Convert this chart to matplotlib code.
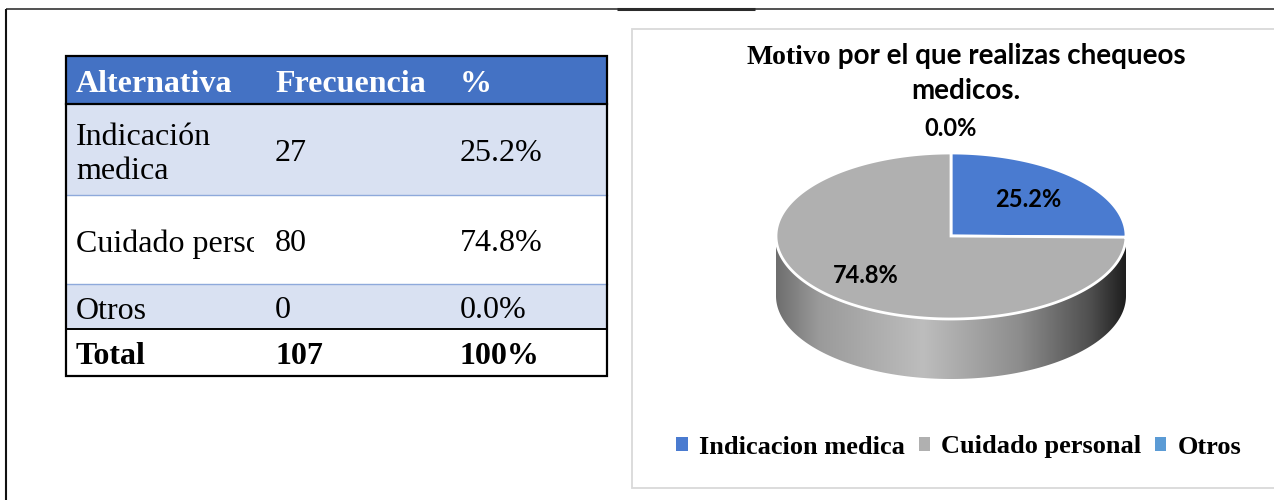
import numpy as np
import matplotlib
matplotlib.use("Agg")
import matplotlib.pyplot as plt
from matplotlib.patches import Rectangle, Polygon, Patch
from matplotlib.colors import LinearSegmentedColormap

# ---- data ----
categories = ["Indicacion medica", "Cuidado personal", "Otros"]
table_labels = ["Indicación\nmedica", "Cuidado personal", "Otros"]
counts = [27, 80, 0]
percents = [25.2, 74.8, 0.0]
total_count = 107
total_label = "100%"
headers = ["Alternativa", "Frecuencia", "%"]
title_first = "Motivo"
title_rest = " por el que realizas chequeos"
title_line2 = "medicos."
slice_colors = ["#4A7BD0", "#B0B0B0", "#5B9BD5"]

SERIF = "Liberation Serif"
SANS = "Lato"

W, H = 1274, 500
fig = plt.figure(figsize=(W / 100, H / 100), dpi=100)
ax = fig.add_axes([0, 0, 1, 1])
ax.set_xlim(0, W)
ax.set_ylim(H, 0)
ax.axis("off")

# ---- page frame ----
ax.plot([6, W], [9, 9], color="#333333", lw=1.2, solid_capstyle="butt")
ax.plot([6, 6], [9, H], color="#111111", lw=1.5, solid_capstyle="butt")
ax.plot([617, 755], [9.2, 9.2], color="#2b2b2b", lw=2.2, solid_capstyle="butt")

# ---- table ----
tx0, tx1 = 66, 607
row_edges = [56, 104, 195, 284, 329, 376]
col_x = [76, 275, 460]
fills = ["#4472C4", "#D9E1F2", "#FFFFFF", "#D9E1F2", "#FFFFFF"]
for i, fc in enumerate(fills):
    ax.add_patch(Rectangle((tx0, row_edges[i]), tx1 - tx0,
                           row_edges[i + 1] - row_edges[i],
                           facecolor=fc, edgecolor="none", zorder=1))
# inner rules
ax.plot([tx0, tx1], [104, 104], color="black", lw=1.6, zorder=2)
ax.plot([tx0, tx1], [195, 195], color="#8EA9DB", lw=1.0, zorder=2)
ax.plot([tx0, tx1], [284, 284], color="#8EA9DB", lw=1.0, zorder=2)
ax.plot([tx0, tx1], [329, 329], color="black", lw=1.4, zorder=2)
ax.add_patch(Rectangle((tx0, 56), tx1 - tx0, 376 - 56, facecolor="none",
                       edgecolor="black", lw=1.6, zorder=3))

fs_tab = 23
dy_text = 4
for j, h in enumerate(headers):
    ax.text(col_x[j], 81 + dy_text, h, color="white", fontsize=fs_tab,
            fontweight="bold", family=SERIF, va="center", ha="left", zorder=4)

first_col_clip = Rectangle((tx0, 56), 254 - tx0, 320, transform=ax.transData)
for i in range(len(table_labels)):
    yc = (row_edges[i + 1] + row_edges[i + 2]) / 2 + dy_text
    t = ax.text(col_x[0], yc + 1, table_labels[i], fontsize=fs_tab,
                family=SERIF, va="center", ha="left", linespacing=1.2,
                zorder=4, clip_on=True)
    t.set_clip_path(first_col_clip)
    ax.text(col_x[1], yc, f"{counts[i]}", fontsize=fs_tab, family=SERIF,
            va="center", ha="left", zorder=4)
    ax.text(col_x[2], yc, f"{percents[i]:.1f}%", fontsize=fs_tab, family=SERIF,
            va="center", ha="left", zorder=4)
yc = (row_edges[4] + row_edges[5]) / 2 + dy_text
ax.text(col_x[0], yc, "Total", fontsize=fs_tab, family=SERIF, fontweight="bold",
        va="center", ha="left", zorder=4)
ax.text(col_x[1], yc, f"{total_count}", fontsize=fs_tab, family=SERIF,
        fontweight="bold", va="center", ha="left", zorder=4)
ax.text(col_x[2], yc, total_label, fontsize=fs_tab, family=SERIF,
        fontweight="bold", va="center", ha="left", zorder=4)

# ---- chart area box ----
ax.add_patch(Rectangle((632, 29), 700, 459, facecolor="white",
                       edgecolor="#D9D9D9", lw=1.3, zorder=0.5))

# ---- title (mixed fonts on first line) ----
renderer = fig.canvas.get_renderer()
title_cx = 966
fs_title = 20
t1 = ax.text(0, 64, title_first, fontsize=fs_title, family=SERIF,
             fontweight="bold", va="baseline", ha="left", zorder=5)
t2 = ax.text(0, 64, title_rest, fontsize=fs_title, family=SANS,
             fontweight="bold", va="baseline", ha="left", zorder=5)
w1 = t1.get_window_extent(renderer).width
w2 = t2.get_window_extent(renderer).width
x_start = title_cx - (w1 + w2) / 2
t1.set_x(x_start)
t2.set_x(x_start + w1)
ax.text(title_cx, 99, title_line2, fontsize=fs_title, family=SANS,
        fontweight="bold", va="baseline", ha="center", zorder=5)

# ---- 3D pie ----
cx, cy, rx, ry, depth = 951, 236, 175, 83, 60


def ell(theta_deg, dy=0.0):
    th = np.radians(theta_deg)
    return cx + rx * np.cos(th), cy - ry * np.sin(th) + dy


# side wall (front half of the cylinder)
ts = np.linspace(180, 360, 200)
top_x, top_y = ell(ts)
bot_x, bot_y = ell(ts[::-1], depth)
side = Polygon(np.column_stack([np.r_[top_x, bot_x], np.r_[top_y, bot_y]]),
               closed=True, facecolor="none", edgecolor="none")
ax.add_patch(side)
side_cmap = LinearSegmentedColormap.from_list(
    "side", [(0.0, "#6E6E6E"), (0.12, "#9A9A9A"), (0.42, "#BDBDBD"),
             (0.7, "#8C8C8C"), (0.9, "#4F4F4F"), (1.0, "#1E1E1E")])
grad = np.linspace(0, 1, 256)[None, :]
im = ax.imshow(grad, cmap=side_cmap, aspect="auto",
               extent=(cx - rx, cx + rx, cy + depth + ry + 2, cy - 2),
               zorder=2, interpolation="bilinear")
im.set_clip_path(side)
ax.set_xlim(0, W)
ax.set_ylim(H, 0)

# top face wedges, clockwise from 12 o'clock
fracs = np.array(counts, dtype=float) / sum(counts)
start = 90.0
mids = []
for k, f in enumerate(fracs):
    end = start - f * 360
    mids.append((start + end) / 2)
    if f > 0:
        angs = np.linspace(start, end, max(int(abs(end - start)), 2) + 1)
        ex, ey = ell(angs)
        pts = np.column_stack([np.r_[cx, ex], np.r_[cy, ey]])
        ax.add_patch(Polygon(pts, closed=True, facecolor=slice_colors[k],
                             edgecolor="white", lw=2.0, joinstyle="miter",
                             zorder=3))
    start = end

# slice labels
label_r = [0.62, 0.68, 1.3]
for k, m in enumerate(mids):
    th = np.radians(m)
    lx = cx + rx * label_r[k] * np.cos(th)
    ly = cy - ry * label_r[k] * np.sin(th)
    ax.text(lx, ly, f"{percents[k]:.1f}%", fontsize=17, family=SANS,
            fontweight="bold", ha="center", va="center", color="black",
            zorder=6)

# ---- legend ----
handles = [Patch(facecolor=c, edgecolor="none") for c in slice_colors]
leg = ax.legend(handles, categories, loc="center",
                bbox_to_anchor=(959 / W, 1 - 447 / H), ncol=3, frameon=False,
                prop={"family": SERIF, "weight": "bold", "size": 19},
                handlelength=0.42, handleheight=0.42, handletextpad=0.45,
                columnspacing=0.5, borderpad=0)

fig.savefig("out.png", dpi=100, facecolor="white")
